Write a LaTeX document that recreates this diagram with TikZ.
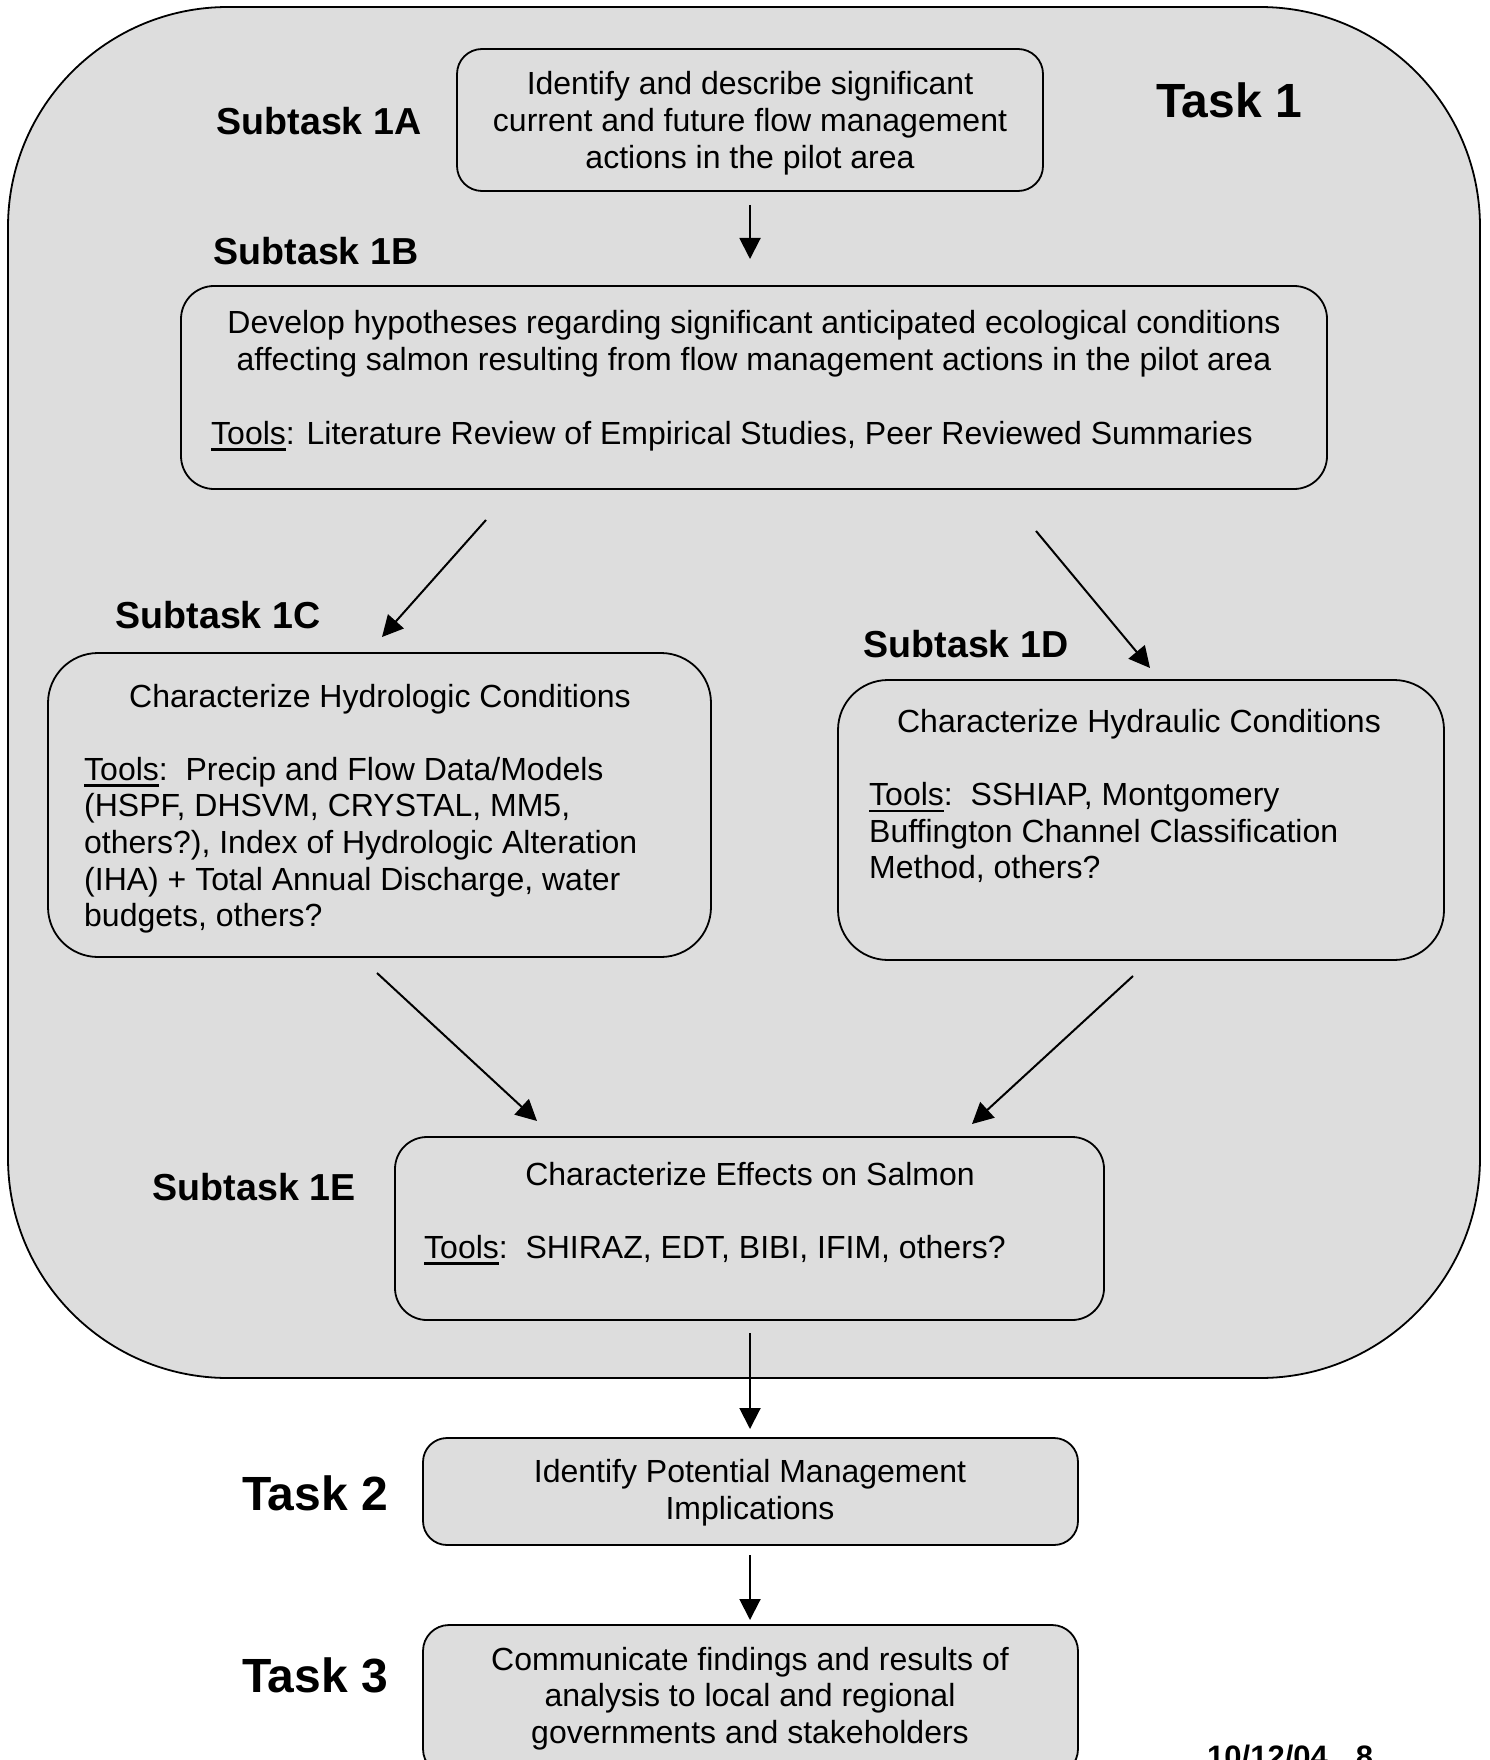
\documentclass[tikz,border=0pt]{standalone}
\usepackage{fontspec}
\setmainfont{Liberation Sans}
\usetikzlibrary{arrows.meta}
\definecolor{boxgray}{RGB}{221,221,221}
\newcommand{\tul}[1]{\setbox0\hbox{#1}\rlap{\rule[-6.5pt]{\wd0}{2.4pt}}\box0}
\begin{document}
\begin{tikzpicture}[x=1pt,y=-1pt,
  roundbox/.style={draw=black, line width=1.8pt, fill=boxgray, rounded corners=#1, inner sep=0pt},
  txt/.style={inner sep=0pt, anchor=base, font=\fontsize{32}{36.8}\selectfont},
  txtl/.style={inner sep=0pt, anchor=base west, font=\fontsize{32}{36.8}\selectfont},
  sublabel/.style={inner sep=0pt, anchor=base, font=\fontsize{37.6}{42}\selectfont\bfseries},
  tasklabel/.style={inner sep=0pt, anchor=base, font=\fontsize{48}{54}\selectfont\bfseries},
  arr/.style={line width=2pt, -{Triangle[length=21pt,width=21pt]}}
]
\useasboundingbox (0,0) rectangle (1489,1760);

% containers
\node[roundbox=220pt, minimum width=1472pt, minimum height=1371pt] (task1) at (744,692.5) {};
\node[roundbox=25pt, minimum width=586pt, minimum height=142pt] (b1A) at (750,120) {};
\node[roundbox=33pt, minimum width=1146pt, minimum height=203pt] (b1B) at (754,387.5) {};
\node[roundbox=50pt, minimum width=663pt, minimum height=304pt] (b1C) at (379.5,805) {};
\node[roundbox=50pt, minimum width=606pt, minimum height=280pt] (b1D) at (1141,820) {};
\node[roundbox=32pt, minimum width=709pt, minimum height=183pt] (b1E) at (749.5,1228.5) {};
\node[roundbox=24pt, minimum width=655pt, minimum height=107pt] (bT2) at (750.5,1491.5) {};
\node[roundbox=26pt, minimum width=655pt, minimum height=150pt] (bT3) at (750.5,1700) {};

% labels
\node[tasklabel] (lT1) at (1229,118) {Task 1};
\node[sublabel] (l1A) at (319,135) {Subtask 1A};
\node[sublabel] (l1B) at (316,265) {Subtask 1B};
\node[sublabel] (l1C) at (218,628) {Subtask 1C};
\node[sublabel] (l1D) at (966,657) {Subtask 1D};
\node[sublabel] (l1E) at (254,1200) {Subtask 1E};
\node[tasklabel] (lT2) at (315,1510) {Task 2};
\node[tasklabel] (lT3) at (315,1692) {Task 3};
\node[inner sep=0pt, anchor=base west, font=\fontsize{31}{36}\selectfont\bfseries] (date) at (1207,1767) {10/12/04\hspace{28pt}8};

% box 1A text
\node[txt] (t1Aa) at (750,95) {Identify and describe significant};
\node[txt] (t1Ab) at (750,131.7) {current and future flow management};
\node[txt] (t1Ac) at (750,168.3) {actions in the pilot area};

% box 1B text
\node[txt] (t1Ba) at (754,334) {Develop hypotheses regarding significant anticipated ecological conditions};
\node[txt] (t1Bb) at (754,370.7) {affecting salmon resulting from flow management actions in the pilot area};
\node[txtl] (t1Bc) at (211,444) {\tul{Tools}: Literature Review of Empirical Studies, Peer Reviewed Summaries};

% box 1C text
\node[txt] (t1Ca) at (380,707) {Characterize Hydrologic Conditions};
\node[txtl] (t1Cb) at (84,780) {\tul{Tools}:\ \ Precip and Flow Data/Models};
\node[txtl] (t1Cc) at (84,816.7) {(HSPF, DHSVM, CRYSTAL, MM5,};
\node[txtl] (t1Cd) at (84,853.4) {others?), Index of Hydrologic Alteration};
\node[txtl] (t1Ce) at (84,890.1) {(IHA) + Total Annual Discharge, water};
\node[txtl] (t1Cf) at (84,926.8) {budgets, others?};

% box 1D text
\node[txt] (t1Da) at (1139,732) {Characterize Hydraulic Conditions};
\node[txtl] (t1Db) at (869,805.5) {\tul{Tools}:\ \ SSHIAP, Montgomery};
\node[txtl] (t1Dc) at (869,842.2) {Buffington Channel Classification};
\node[txtl] (t1Dd) at (869,878.9) {Method, others?};

% box 1E text
\node[txt] (t1Ea) at (750,1185) {Characterize Effects on Salmon};
\node[txtl] (t1Eb) at (424,1258) {\tul{Tools}:\ \ SHIRAZ, EDT, BIBI, IFIM, others?};

% Task 2 text
\node[txt] (tT2a) at (750,1482.5) {Identify Potential Management};
\node[txt] (tT2b) at (750,1519) {Implications};

% Task 3 text
\node[txt] (tT3a) at (750,1670) {Communicate findings and results of};
\node[txt] (tT3b) at (750,1706.7) {analysis to local and regional};
\node[txt] (tT3c) at (750,1743.4) {governments and stakeholders};

% arrow end points
\coordinate (a1s) at (750,205);   \coordinate (a1e) at (750,259);
\coordinate (a2s) at (486,520);   \coordinate (a2e) at (382,637);
\coordinate (a3s) at (1036,531);  \coordinate (a3e) at (1150,668);
\coordinate (a4s) at (377,973);   \coordinate (a4e) at (537,1121);
\coordinate (a5s) at (1133,976);  \coordinate (a5e) at (972,1124);
\coordinate (a6s) at (750,1333);  \coordinate (a6e) at (750,1429);
\coordinate (a7s) at (750,1555);  \coordinate (a7e) at (750,1620);

\draw[arr] (a1s) -- (a1e);
\draw[arr] (a2s) -- (a2e);
\draw[arr] (a3s) -- (a3e);
\draw[arr] (a4s) -- (a4e);
\draw[arr] (a5s) -- (a5e);
\draw[arr] (a6s) -- (a6e);
\draw[arr] (a7s) -- (a7e);
\end{tikzpicture}
\end{document}
